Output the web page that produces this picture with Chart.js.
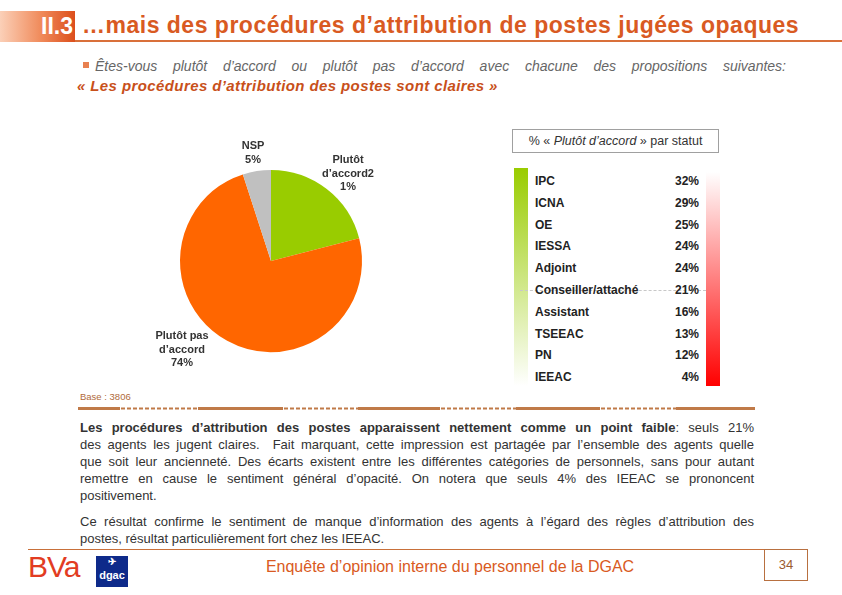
<!DOCTYPE html>
<html>
<head>
<meta charset="utf-8">
<script src="https://cdn.jsdelivr.net/npm/chart.js@4"></script>
<style>
  html, body { margin: 0; padding: 0; background: #fff; }
  body { width: 842px; height: 595px; position: relative; overflow: hidden; font-family: "Liberation Sans", Arial, sans-serif; }
  .abs { position: absolute; }
  #badge { left: 0; top: 11px; width: 75px; height: 31px; background: linear-gradient(to right, #fbd0b8, #f08a5a 55%, #dc4f1c); }
  #badge span { position: absolute; right: 2px; top: 2px; color: #fff; font-weight: bold; font-size: 23px; }
  #title { left: 82px; top: 12px; color: #d95a22; font-weight: bold; font-size: 23px; letter-spacing: 0.5px; white-space: nowrap; }
  #titleLine { left: 75px; top: 40px; width: 767px; height: 2px; background: #d9703a; }
  #bullet { left: 83px; top: 62px; width: 6px; height: 6px; background: #e88050; }
  #sub1 { left: 95px; top: 58px; width: 691px; color: #666; font-style: italic; font-size: 14px; text-align: justify; text-align-last: justify; white-space: nowrap; }
  #sub2 { left: 77px; top: 77px; color: #c8501a; font-style: italic; font-weight: bold; font-size: 15px; letter-spacing: 0.4px; white-space: nowrap; }
  #tblHead { left: 512px; top: 129px; width: 205px; height: 22px; border: 1px solid #a0a0a0; font-size: 12.5px; color: #333; text-align: center; line-height: 22px; white-space: nowrap; }
  #greenBar { left: 514px; top: 168px; width: 14px; height: 218px; background: linear-gradient(to bottom, #99cc00, #ffffff); }
  #redBar { left: 706px; top: 172px; width: 14px; height: 214px; background: linear-gradient(to bottom, #ffffff, #ff0000); }
  .row { position: absolute; left: 535px; width: 164px; font-size: 12px; font-weight: bold; color: #222; }
  .row .v { position: absolute; right: 0; top: 0; }
  #dash { left: 520px; top: 290px; width: 186px; border-top: 1px dashed #c8c8c8; }
  #base { left: 80px; top: 391px; font-size: 9.5px; color: #b06a3a; }
  #sep { left: 78px; top: 407px; width: 677px; height: 3px; }
  #para { left: 80px; top: 419px; width: 674px; font-size: 13px; line-height: 17px; color: #333; }
  #para .l { text-align: justify; text-align-last: justify; white-space: nowrap; }
  #para .e { text-align: left; }
  #para .gap { height: 9px; }
  #footLine { left: 28px; top: 549px; width: 736px; height: 1px; background: #c8703a; }
  #pageBox { left: 764px; top: 549px; width: 42px; height: 30px; border: 1px solid #b87040; font-size: 13px; color: #9a5a30; text-align: center; line-height: 30px; }
  #footText { left: 200px; top: 558px; width: 500px; text-align: center; font-size: 16px; color: #d95a22; }
  #bva { left: 28px; top: 550px; font-size: 30px; color: #e23c22; letter-spacing: -1px; }
  #dgac { left: 96px; top: 556px; width: 32px; height: 31px; background: #0e2a8a; color: #fff; font-size: 11px; font-weight: bold; text-align: center; }
</style>
</head>
<body>
<div id="badge" class="abs"><span>II.3</span></div>
<div id="title" class="abs">…mais des procédures d’attribution de postes jugées opaques</div>
<div id="titleLine" class="abs"></div>
<div id="bullet" class="abs"></div>
<div id="sub1" class="abs">Êtes-vous plutôt d’accord ou plutôt pas d’accord avec chacune des propositions suivantes:</div>
<div id="sub2" class="abs">« Les procédures d’attribution des postes sont claires »</div>

<div class="abs" style="left:140px;top:120px;width:260px;height:280px;">
  <canvas id="pie" width="260" height="280"></canvas>
</div>

<div id="tblHead" class="abs">% « <i>Plutôt d’accord</i> » par statut</div>
<div id="greenBar" class="abs"></div>
<div id="redBar" class="abs"></div>
<div id="dash" class="abs"></div>
<div id="rows"></div>

<div id="base" class="abs">Base : 3806</div>
<canvas id="sep" class="abs" width="677" height="3"></canvas>
<div id="para" class="abs">
  <div class="l"><b>Les procédures d’attribution des postes apparaissent nettement comme un point faible</b>: seuls 21%</div>
  <div class="l">des agents les jugent claires.&nbsp; Fait marquant, cette impression est partagée par l’ensemble des agents quelle</div>
  <div class="l">que soit leur ancienneté. Des écarts existent entre les différentes catégories de personnels, sans pour autant</div>
  <div class="l">remettre en cause le sentiment général d’opacité. On notera que seuls 4% des IEEAC se prononcent</div>
  <div class="e">positivement.</div>
  <div class="gap"></div>
  <div class="l">Ce résultat confirme le sentiment de manque d’information des agents à l’égard des règles d’attribution des</div>
  <div class="e">postes, résultat particulièrement fort chez les IEEAC.</div>
</div>

<div id="footLine" class="abs"></div>
<div id="bva" class="abs">BVa</div>
<div id="dgac" class="abs"><div style="font-size:10px;line-height:12px">✈</div><div style="line-height:14px">dgac</div></div>
<div id="footText" class="abs">Enquête d’opinion interne du personnel de la DGAC</div>
<div id="pageBox" class="abs">34</div>

<script>
// Répartition globale
const pieCategories = ['Plutôt d’accord', 'Plutôt pas d’accord', 'NSP'];
const pieValues = [21, 74, 5];
const pieColors = ['#99cc00', '#ff6600', '#c0c0c0'];
// Libellés tels qu'affichés (coupure d'origine)
const pieLabelLines = [
    ['Plutôt', 'd’accord2', '1%'],
    ['Plutôt pas', 'd’accord', '74%'],
    ['NSP', '5%']
];

// % "Plutôt d'accord" par statut
const statuts = ['IPC', 'ICNA', 'OE', 'IESSA', 'Adjoint', 'Conseiller/attaché', 'Assistant', 'TSEEAC', 'PN', 'IEEAC'];
const statutValues = [32, 29, 25, 24, 24, 21, 16, 13, 12, 4];

(function () {
    // position des libellés, relative au centre du camembert
    const labelPos = [
        { dx: 77, dy: -101 },
        { dx: -89, dy: 75 },
        { dx: -18, dy: -115 }
    ];

    const pieLabels = {
        id: 'pieLabels',
        afterDraw(chart) {
            const ctx = chart.ctx;
            const arc = chart.getDatasetMeta(0).data[0];
            const cx = arc.x, cy = arc.y;
            ctx.save();
            ctx.font = 'bold 11px "Liberation Sans", Arial, sans-serif';
            ctx.fillStyle = '#333';
            ctx.textAlign = 'center';
            ctx.textBaseline = 'middle';
            pieLabelLines.forEach((lines, i) => {
                lines.forEach((t, j) => {
                    ctx.fillText(t, cx + labelPos[i].dx, cy + labelPos[i].dy + j * 13.5);
                });
            });
            ctx.restore();
        }
    };

    new Chart(document.getElementById('pie').getContext('2d'), {
        type: 'pie',
        data: {
            labels: pieCategories,
            datasets: [{ data: pieValues, backgroundColor: pieColors, borderWidth: 0 }]
        },
        options: {
            responsive: false,
            animation: false,
            layout: { padding: { left: 40, right: 38, top: 50, bottom: 48 } },
            plugins: { legend: { display: false }, tooltip: { enabled: false } }
        },
        plugins: [pieLabels]
    });

    // tableau par statut
    const rows = document.getElementById('rows');
    statuts.forEach((s, i) => {
        const d = document.createElement('div');
        d.className = 'row';
        d.style.top = (174 + i * 21.8) + 'px';
        d.innerHTML = s + '<span class="v">' + statutValues[i] + '%</span>';
        rows.appendChild(d);
    });

    // séparateur plein / pointillé
    const sc = document.getElementById('sep').getContext('2d');
    sc.fillStyle = '#c07a48';
    const segs = [[0, 42, 1], [42, 120, 0], [120, 205, 1], [205, 280, 0], [280, 362, 1], [362, 438, 0], [438, 522, 1], [522, 598, 0], [598, 677, 1]];
    segs.forEach(([a, b, solid]) => {
        if (solid) sc.fillRect(a, 0, b - a, 3);
        else for (let x = a + 1; x < b - 1; x += 6) sc.fillRect(x, 0.5, 4, 2);
    });
})();
</script>
</body>
</html>
